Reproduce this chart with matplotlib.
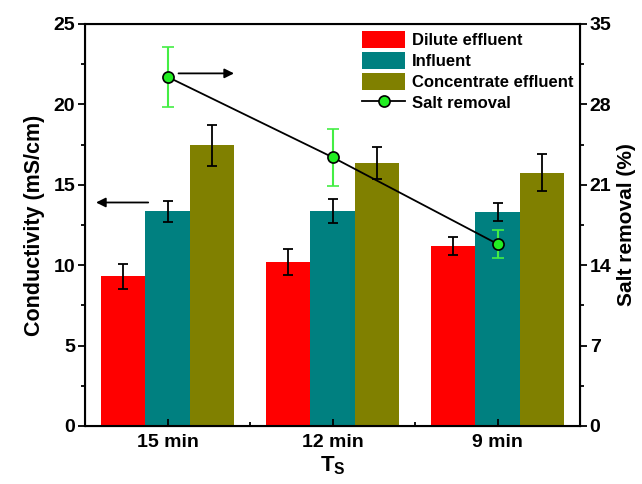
import matplotlib
matplotlib.use("Agg")
import matplotlib.pyplot as plt
from matplotlib.ticker import MultipleLocator
from matplotlib.lines import Line2D
import numpy as np

plt.rcParams['font.family'] = ['Liberation Sans', 'DejaVu Sans']
plt.rcParams['font.weight'] = 'bold'
plt.rcParams['mathtext.default'] = 'regular'

categories = ["15 min", "12 min", "9 min"]
dilute = [9.3, 10.2, 11.2]
dilute_err = [0.75, 0.8, 0.58]
influent = [13.35, 13.35, 13.3]
influent_err = [0.65, 0.75, 0.55]
concentrate = [17.45, 16.33, 15.75]
concentrate_err = [1.25, 1.0, 1.15]
salt_removal = [30.4, 23.4, 15.85]
salt_removal_err = [2.6, 2.5, 1.25]

fig = plt.figure(figsize=(6.42, 4.84), dpi=100)
ax = fig.add_axes([85/642, 1 - 426/484, 495/642, 402/484])
x = np.arange(len(categories))
w = 0.267
ekw = dict(ecolor='black', capsize=3.5, elinewidth=1.3, capthick=1.3)
ax.bar(x - w, dilute, w, yerr=dilute_err, color='#ff0000', label='Dilute effluent', error_kw=ekw)
ax.bar(x, influent, w, yerr=influent_err, color='#008080', label='Influent', error_kw=ekw)
ax.bar(x + w, concentrate, w, yerr=concentrate_err, color='#808000', label='Concentrate effluent', error_kw=ekw)

ax.set_xlim(-0.5, 2.5)
ax.set_ylim(0, 25)
ax.set_xticks(x)
ax.set_xticklabels(categories)
ax.xaxis.set_minor_locator(MultipleLocator(0.5))
ax.yaxis.set_major_locator(MultipleLocator(5))
ax.yaxis.set_minor_locator(MultipleLocator(2.5))
ax.tick_params(axis='x', which='major', direction='in', length=5, width=1.3, labelsize=14, pad=6)
ax.tick_params(axis='x', which='minor', direction='in', length=3, width=1.3)
ax.tick_params(axis='y', which='major', direction='out', length=5, width=1.3, labelsize=14, pad=2)
ax.tick_params(axis='y', which='minor', direction='out', length=3, width=1.3)
for s in ax.spines.values():
    s.set_linewidth(1.5)
ax.set_ylabel('Conductivity (mS/cm)', fontsize=15.5, fontweight='bold', labelpad=6)
ax.set_xlabel('T$_S$', fontsize=16, fontweight='bold', labelpad=2)

ax2 = ax.twinx()
ax2.set_ylim(0, 35)
ax2.yaxis.set_major_locator(MultipleLocator(7))
ax2.yaxis.set_minor_locator(MultipleLocator(3.5))
ax2.tick_params(axis='y', which='major', direction='out', length=5, width=1.3, labelsize=14, pad=2)
ax2.tick_params(axis='y', which='minor', direction='out', length=3, width=1.3)
ax2.set_ylabel('Salt removal (%)', fontsize=15, fontweight='bold', labelpad=4)
ax2.errorbar(x, salt_removal, yerr=salt_removal_err, color='black', lw=1.3,
             marker='o', markersize=8, markerfacecolor='#22ee22', markeredgecolor='black',
             markeredgewidth=1.2, ecolor='#44ee44', elinewidth=1.5, capsize=4, capthick=1.5)

# arrows pointing to the matching axes
ax2.annotate('', xy=(0.42, 30.7), xytext=(0.05, 30.7),
             arrowprops=dict(arrowstyle='-|>', color='black', lw=1.3, mutation_scale=14))
ax.annotate('', xy=(-0.45, 13.9), xytext=(-0.1, 13.9),
            arrowprops=dict(arrowstyle='-|>', color='black', lw=1.3, mutation_scale=14))

h1, l1 = ax.get_legend_handles_labels()
salt_handle = Line2D([], [], color='black', lw=1.3, marker='o', markersize=8,
                     markerfacecolor='#22ee22', markeredgecolor='black', markeredgewidth=1.2)
ax2.legend(h1 + [salt_handle], l1 + ['Salt removal'], loc='upper right', frameon=False,
           fontsize=12, handlelength=2.6, handleheight=1.25, borderaxespad=0.0,
           labelspacing=0.2, handletextpad=0.4)

fig.savefig('out.png', dpi=100)
